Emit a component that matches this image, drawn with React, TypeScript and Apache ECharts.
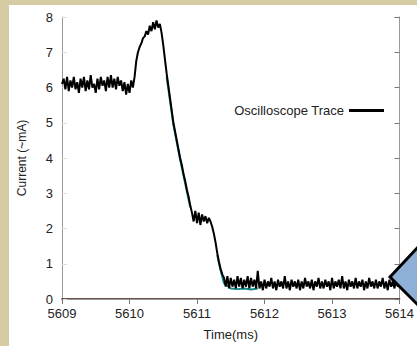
import React, { useEffect, useRef } from 'react';
import * as echarts from 'echarts';

// Axis ranges
const X_MIN = 5609;
const X_MAX = 5614;
const Y_MIN = 0;
const Y_MAX = 8;

// Oscilloscope samples, one every SAMPLE_STEP ms starting at SAMPLE_START
const SAMPLE_START = 5609;
const SAMPLE_STEP = 0.025;

const traceBaseline = [
  6.1, 6.25, 5.95, 6.3, 5.9, 6.2, 6.0, 6.3, 5.95, 6.15,
  5.85, 6.25, 6.0, 6.3, 5.9, 6.2, 5.95, 6.35, 6.0, 6.1,
  5.85, 6.25, 5.95, 6.3, 6.05, 6.2, 5.9, 6.3, 6.0, 6.35,
  6.0, 6.25, 5.95, 6.3, 6.05, 6.2, 5.9, 6.15, 5.8, 6.1,
  5.85, 6.2, 6.0,
];
const tracePulse = [
  6.3, 6.75, 7.0, 7.15, 7.25, 7.4, 7.45, 7.6, 7.5, 7.75,
  7.6, 7.85, 7.65, 7.9, 7.7, 7.8, 7.55, 7.2, 6.8, 6.4,
  6.05, 5.7, 5.35, 5.0, 4.75, 4.5, 4.25, 4.0, 3.8, 3.55,
  3.35, 3.1, 2.9, 2.65, 2.45, 2.2, 2.5, 2.15, 2.45, 2.1,
  2.4, 2.2, 2.35, 2.15, 2.3, 2.2, 2.05, 1.85, 1.6, 1.3,
  1.05, 0.85, 0.7, 0.6,
];
const traceTail = [
  0.35, 0.65, 0.3, 0.6, 0.35, 0.55, 0.3, 0.65, 0.35, 0.6,
  0.3, 0.55, 0.35, 0.65, 0.3, 0.6, 0.35, 0.55, 0.3, 0.8,
  0.3, 0.5, 0.25, 0.55, 0.3, 0.5, 0.35, 0.6, 0.3, 0.5,
  0.25, 0.55, 0.35, 0.5, 0.3, 0.65, 0.3, 0.5, 0.25, 0.55,
  0.35, 0.5, 0.3, 0.55, 0.25, 0.5, 0.3, 0.6, 0.35, 0.5,
  0.3, 0.55, 0.25, 0.5, 0.35, 0.6, 0.3, 0.5, 0.3, 0.55,
  0.35, 0.5, 0.25, 0.6, 0.3, 0.5, 0.35, 0.55, 0.3, 0.65,
  0.3, 0.5, 0.25, 0.55, 0.35, 0.5, 0.3, 0.6, 0.3, 0.5,
  0.35, 0.55, 0.25, 0.5, 0.3, 0.6, 0.35, 0.5, 0.3, 0.55,
  0.3, 0.5, 0.35, 0.6, 0.3, 0.5, 0.25, 0.55, 0.35, 0.5,
  0.3, 0.55, 0.35, 0.45,
];
const traceValues = [...traceBaseline, ...tracePulse, ...traceTail];

// Underlying teal trace, visible at the edges of the black one (null = gap)
const tealTimes = [5610.55, 5610.65, 5610.75, 5610.85, 5610.9, 5610.95, 5611.3, 5611.35, 5611.4, 5611.5, 5611.6, 5611.7, 5611.8, 5611.9];
const tealValues = [6.3, 4.95, 3.95, 3.05, 2.6, null, 1.25, 0.8, 0.45, 0.3, 0.28, 0.3, 0.27, 0.3];

const legendLabel = 'Oscilloscope Trace';
const xAxisTitle = 'Time(ms)';
const yAxisTitle = 'Current (~mA)';

const FONT = '"Liberation Sans", Arial, sans-serif';

export default function App() {
  const ref = useRef<HTMLDivElement>(null);

  useEffect(() => {
    if (!ref.current) return;
    const chart = echarts.init(ref.current, undefined, { renderer: 'svg' });

    const traceData = traceValues.map((v, i) => [SAMPLE_START + i * SAMPLE_STEP, v]);
    const tealData = tealTimes.map((t, i) => (tealValues[i] === null ? [t, '-'] : [t, tealValues[i]]));

    chart.setOption({
      animation: false,
      backgroundColor: 'transparent',
      textStyle: { fontFamily: FONT },
      grid: { left: 62, top: 17, right: 13, bottom: 46, containLabel: false },
      legend: {
        data: [legendLabel],
        right: 28,
        top: 99,
        align: 'right',
        icon: 'rect',
        itemWidth: 35,
        itemHeight: 3,
        textStyle: { fontSize: 13, color: '#222', fontFamily: FONT },
      },
      xAxis: [
        {
          type: 'value',
          min: X_MIN,
          max: X_MAX,
          interval: 1,
          position: 'bottom',
          name: xAxisTitle,
          nameLocation: 'middle',
          nameGap: 29,
          nameTextStyle: { fontSize: 13, color: '#222', fontFamily: FONT },
          axisLine: { show: true, lineStyle: { color: '#3a1a10', width: 1.5 } },
          axisTick: { show: false },
          axisLabel: {
            fontSize: 13, color: '#222', margin: 8, fontFamily: FONT,
            showMinLabel: true, showMaxLabel: true,
            formatter: (v: number) => String(v),
          },
          splitLine: { show: false },
        },
        {
          type: 'value',
          min: X_MIN,
          max: X_MAX,
          interval: 1,
          position: 'top',
          axisLine: { show: true, lineStyle: { color: '#9a9a9a' } },
          axisTick: { show: true, inside: true, length: 5, lineStyle: { color: '#777' } },
          axisLabel: { show: false },
          splitLine: { show: false },
        },
      ],
      yAxis: [
        {
          type: 'value',
          min: Y_MIN,
          max: Y_MAX,
          interval: 1,
          position: 'left',
          name: yAxisTitle,
          nameLocation: 'middle',
          nameGap: 34,
          nameRotate: 90,
          nameTextStyle: { fontSize: 12, color: '#222', fontFamily: FONT },
          axisLine: { show: true, lineStyle: { color: '#9a9a9a' } },
          axisTick: { show: true, inside: true, length: 5, lineStyle: { color: '#ddd' } },
          axisLabel: { fontSize: 13, color: '#222', margin: 9, fontFamily: FONT },
          splitLine: { show: false },
        },
        {
          type: 'value',
          min: Y_MIN,
          max: Y_MAX,
          interval: 1,
          position: 'right',
          axisLine: { show: true, lineStyle: { color: '#9a9a9a' } },
          axisTick: { show: true, inside: true, length: 5, lineStyle: { color: '#777' } },
          axisLabel: { show: false },
          splitLine: { show: false },
        },
      ],
      series: [
        {
          name: 'teal',
          type: 'line',
          data: tealData,
          showSymbol: false,
          symbol: 'none',
          connectNulls: false,
          z: 1,
          lineStyle: { color: '#138a8a', width: 2 },
          itemStyle: { color: '#138a8a' },
        },
        {
          name: legendLabel,
          type: 'line',
          data: traceData,
          showSymbol: false,
          symbol: 'none',
          z: 2,
          lineStyle: { color: '#000', width: 2 },
          itemStyle: { color: '#000' },
        },
      ],
      graphic: [
        {
          type: 'polygon',
          z: 100,
          shape: { points: [[390, 277], [447, 216], [447, 334]] },
          style: { fill: '#8fb0d6', stroke: '#000', lineWidth: 3 },
        },
      ],
    });

    return () => chart.dispose();
  }, []);

  return (
    <div style={{ position: 'fixed', left: 0, top: 0, width: 417, height: 346, background: '#d6cca4', overflow: 'hidden' }}>
      <div style={{ position: 'absolute', left: 9, top: 5, width: 408, height: 341, background: '#fff' }} />
      <div ref={ref} style={{ position: 'absolute', left: 0, top: 0, width: 417, height: 346 }} />
    </div>
  );
}
